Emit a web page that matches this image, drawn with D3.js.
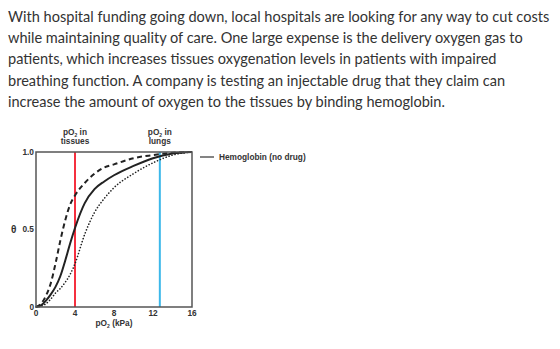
<!DOCTYPE html>
<html>
<head>
<meta charset="utf-8">
<script src="https://cdn.jsdelivr.net/npm/d3@7"></script>
<style>
  body { margin: 0; background: #fff; }
</style>
</head>
<body>
<div id="chart"></div>
<script>
const paragraph = [
    'With hospital funding going down, local hospitals are looking for any way to cut costs',
    'while maintaining quality of care. One large expense is the delivery oxygen gas to',
    'patients, which increases tissues oxygenation levels in patients with impaired',
    'breathing function. A company is testing an injectable drug that they claim can',
    'increase the amount of oxygen to the tissues by binding hemoglobin.'
];

// pO2 (kPa) sample points
const pO2 = [0, 0.5, 1, 1.5, 2, 2.5, 3, 3.5, 4, 5, 6, 7, 8, 10, 12, 14, 16];
const noDrug = [0, 0.01, 0.04, 0.08, 0.13, 0.2, 0.3, 0.41, 0.51, 0.67, 0.76, 0.81, 0.85, 0.91, 0.96, 0.99, 1.0];
const leftShift = [0, 0.02, 0.07, 0.15, 0.28, 0.43, 0.56, 0.66, 0.72, 0.8, 0.86, 0.9, 0.92, 0.96, 0.98, 0.995, 1.0];
const rightShift = [0, 0.005, 0.02, 0.05, 0.09, 0.12, 0.16, 0.21, 0.28, 0.47, 0.61, 0.7, 0.77, 0.86, 0.93, 0.98, 1.0];

const xTicks = [0, 4, 8, 12, 16];
const yTicks = [0, 0.5, 1];
const tissuePO2 = 4;
const lungPO2 = 12.7;
const legendLabel = 'Hemoglobin (no drug)';

const width = 560;
const height = 349;
const plot = { left: 36, right: 192, top: 152, bottom: 307 };

const svg = d3
    .select('#chart')
    .append('svg')
    .attr('width', width)
    .attr('height', height)
    .attr('viewBox', [0, 0, width, height]);

// question text
svg.append('g')
    .attr('font-family', 'Lato, sans-serif')
    .attr('font-size', 14.55)
    .attr('fill', '#333')
    .selectAll('text')
    .data(paragraph)
    .join('text')
    .attr('x', 8)
    .attr('y', (_, i) => 22 + i * 21.2)
    .text((d) => d);

const x = d3.scaleLinear().domain([0, 16]).range([plot.left, plot.right]);
const y = d3.scaleLinear().domain([0, 1]).range([plot.bottom, plot.top]);

const chart = svg.append('g')
    .attr('font-family', 'Arial, Liberation Sans, sans-serif')
    .attr('font-weight', 'bold')
    .attr('font-size', 8.3)
    .attr('fill', '#333');

// reference lines
chart.append('line')
    .attr('x1', x(tissuePO2)).attr('x2', x(tissuePO2))
    .attr('y1', y(0)).attr('y2', y(1))
    .attr('stroke', '#f5303f')
    .attr('stroke-width', 2);

chart.append('line')
    .attr('x1', x(lungPO2)).attr('x2', x(lungPO2))
    .attr('y1', y(0)).attr('y2', y(1))
    .attr('stroke', '#3cb8ea')
    .attr('stroke-width', 2);

const line = d3.line()
    .x((d) => x(d[0]))
    .y((d) => y(d[1]))
    .curve(d3.curveMonotoneX);

const curves = [
    { values: rightShift, dash: '0.1,3', width: 1.6, cap: 'round' },
    { values: leftShift, dash: '5,3.5', width: 2, cap: 'butt' },
    { values: noDrug, dash: null, width: 2, cap: 'butt' }
];

chart.selectAll('path.curve')
    .data(curves)
    .join('path')
    .attr('class', 'curve')
    .attr('fill', 'none')
    .attr('stroke', '#222')
    .attr('stroke-width', (d) => d.width)
    .attr('stroke-dasharray', (d) => d.dash)
    .attr('stroke-linecap', (d) => d.cap)
    .attr('d', (d) => line(pO2.map((p, i) => [p, d.values[i]])));

// frame
chart.append('rect')
    .attr('x', plot.left)
    .attr('y', plot.top)
    .attr('width', plot.right - plot.left)
    .attr('height', plot.bottom - plot.top)
    .attr('fill', 'none')
    .attr('stroke', '#555')
    .attr('stroke-width', 1.5);

// x tick labels
chart.selectAll('text.xtick')
    .data(xTicks)
    .join('text')
    .attr('class', 'xtick')
    .attr('x', (d) => x(d))
    .attr('y', plot.bottom + 9)
    .attr('text-anchor', 'middle')
    .text((d) => d);

// y tick labels
chart.selectAll('text.ytick')
    .data(yTicks)
    .join('text')
    .attr('class', 'ytick')
    .attr('x', plot.left - 2)
    .attr('y', (d) => y(d) + 2.5)
    .attr('text-anchor', 'end')
    .text((d) => (d === 0 ? '0' : d.toFixed(1)));

chart.append('text')
    .attr('x', 11)
    .attr('y', y(0.5) + 3.5)
    .attr('font-size', 10)
    .text('θ');

// x axis title with subscript
const xTitle = chart.append('text')
    .attr('x', x(8))
    .attr('y', plot.bottom + 19)
    .attr('text-anchor', 'middle');
xTitle.append('tspan').text('pO');
xTitle.append('tspan').attr('font-size', 5).attr('dy', 1.5).text('2');
xTitle.append('tspan').attr('dy', -1.5).text(' (kPa)');

// top labels
const topLabels = [
    { px: tissuePO2, second: 'tissues' },
    { px: lungPO2, second: 'lungs' }
];
topLabels.forEach((l) => {
    const t = chart.append('text')
        .attr('x', x(l.px))
        .attr('y', plot.top - 17)
        .attr('text-anchor', 'middle');
    t.append('tspan').text('pO');
    t.append('tspan').attr('font-size', 5).attr('dy', 1.5).text('2');
    t.append('tspan').attr('dy', -1.5).text(' in');
    chart.append('text')
        .attr('x', x(l.px))
        .attr('y', plot.top - 8)
        .attr('text-anchor', 'middle')
        .text(l.second);
});

// legend
chart.append('line')
    .attr('x1', 200).attr('x2', 214)
    .attr('y1', plot.top + 5).attr('y2', plot.top + 5)
    .attr('stroke', '#333')
    .attr('stroke-width', 1.2);
chart.append('text')
    .attr('x', 219)
    .attr('y', plot.top + 8)
    .text(legendLabel);
</script>
</body>
</html>
